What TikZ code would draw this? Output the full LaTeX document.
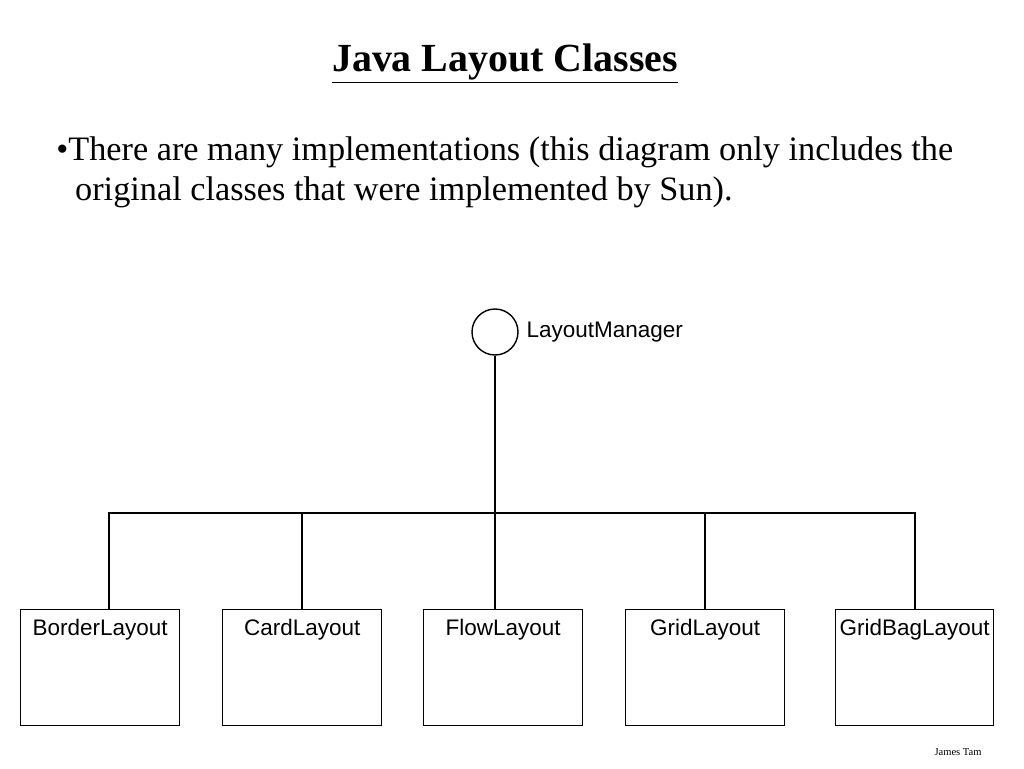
\documentclass[tikz,border=0pt]{standalone}
\usepackage{fontspec}
\setmainfont{Liberation Serif}
\setsansfont{Liberation Sans}
\usetikzlibrary{positioning}

\begin{document}
\begin{tikzpicture}[x=0.02cm, y=-0.02cm,
    cls/.style={draw, line width=0.8pt, minimum width=3.18cm, minimum height=2.32cm, anchor=north west},
    clsname/.style={font=\sffamily\fontsize{12.8}{14}\selectfont, anchor=north, inner sep=0pt}]
    \useasboundingbox (0,0) rectangle (1024,768);
    \node (title) at (505,64) {\fontsize{22.7}{26}\selectfont\bfseries\underline{Java Layout Classes}};
    \node[anchor=north west, align=left, inner sep=0pt, font=\fontsize{19.5}{23}\selectfont] (bullet) at (56,136)
        {\textbullet There are many implementations (this diagram only includes the\\
         \hspace{0.55em}original classes that were implemented by Sun).};
    \node[draw, circle, line width=0.8pt, minimum size=0.92cm, inner sep=0pt] (lm) at (495,332) {};
    \node[right=1pt of lm, font=\sffamily\fontsize{12.8}{14}\selectfont] (lmname) {LayoutManager};

    \node[cls] (border) at (20,609) {};
    \node[cls] (card) at (222,609) {};
    \node[cls] (flow) at (423,609) {};
    \node[cls] (grid) at (625,609) {};
    \node[cls, minimum width=3.16cm] (gridbag) at (835,609) {};
    \foreach \n/\t in {border/BorderLayout, card/CardLayout, flow/FlowLayout, grid/GridLayout, gridbag/GridBagLayout}
        \node[clsname] at ([yshift=-0.2cm]\n.north) {\t};

    \coordinate (bus) at (495,513);
    \draw[line width=0.8pt] (lm.south) -- (bus);
    \draw[line width=0.8pt] (border.north -| 109,0) |- (bus) -| (gridbag.north -| 915,0);
    \draw[line width=0.8pt] (card.north -| 302,0) -- (302,513);
    \draw[line width=0.8pt] (bus) -- (flow.north -| 495,0);
    \draw[line width=0.8pt] (grid.north -| 705,0) -- (705,513);

    \node[font=\fontsize{6}{7}\selectfont] (author) at (958,752) {James Tam};
\end{tikzpicture}
\end{document}
